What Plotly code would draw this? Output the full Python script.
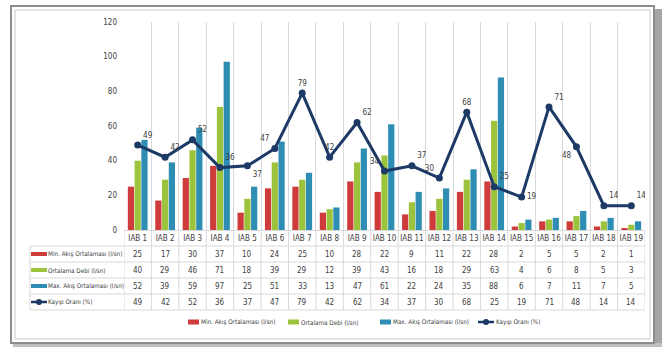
import plotly.graph_objects as go

categories = [f"IAB {i}" for i in range(1, 20)]
min_flow = [25, 17, 30, 37, 10, 24, 25, 10, 28, 22, 9, 11, 22, 28, 2, 5, 5, 2, 1]
avg_flow = [40, 29, 46, 71, 18, 39, 29, 12, 39, 43, 16, 18, 29, 63, 4, 6, 8, 5, 3]
max_flow = [52, 39, 59, 97, 25, 51, 33, 13, 47, 61, 22, 24, 35, 88, 6, 7, 11, 7, 5]
loss_rate = [49, 42, 52, 36, 37, 47, 79, 42, 62, 34, 37, 30, 68, 25, 19, 71, 48, 14, 14]
series_names = ["Min. Akış Ortalaması (l/sn)", "Ortalama Debi (l/sn)",
                "Max. Akış Ortalaması (l/sn)", "Kayıp Oranı (%)"]
label_pos = ["top right", "top right", "top right", "top right", "bottom right",
             "top left", "top center", "top center", "top right", "top left",
             "top right", "top left", "top center", "top right", "middle right",
             "top right", "bottom left", "top right", "top right"]

RED, GREEN, BLUE, NAVY = "#cf3a3a", "#9cc33c", "#2e8db3", "#1d3a66"
FONT = "Liberation Sans Narrow, DejaVu Sans Condensed, Arial Narrow, sans-serif"
W, H = 666, 349
L, R, T, B = 124, 645, 22, 230


def px(x):
    return (x - L) / (R - L)


def py(y):
    return (B - y) / (B - T)


fig = go.Figure()
for name, vals, col in zip(series_names[:3], [min_flow, avg_flow, max_flow], [RED, GREEN, BLUE]):
    fig.add_trace(go.Bar(x=categories, y=vals, name=name, marker_color=col,
                         marker_line_width=0))
fig.add_trace(go.Scatter(x=categories, y=loss_rate, name=series_names[3],
                         mode="lines+markers+text", text=[str(v) for v in loss_rate],
                         textposition=label_pos,
                         textfont=dict(size=8, color="#404040", family=FONT),
                         line=dict(color=NAVY, width=3),
                         marker=dict(size=7, color=NAVY, symbol="circle")))

shapes = []
grid = "#d9d9d9"
# outer frame
shapes.append(dict(type="rect", xref="paper", yref="paper", x0=px(653), x1=px(662),
                   y0=py(347), y1=py(9), fillcolor="#a6a6a6", line_width=0, layer="below"))
shapes.append(dict(type="rect", xref="paper", yref="paper", x0=px(13), x1=px(662),
                   y0=py(347), y1=py(343), fillcolor="#bfbfbf", line_width=0, layer="below"))
shapes.append(dict(type="rect", xref="paper", yref="paper", x0=px(11), x1=px(654),
                   y0=py(343), y1=py(6), fillcolor="white",
                   line=dict(color="#8c8c8c", width=2), layer="below"))
shapes.append(dict(type="rect", xref="paper", yref="paper", x0=px(15), x1=px(650),
                   y0=py(339), y1=py(10), line=dict(color="#c8c8c8", width=1), layer="below"))
# table horizontal lines
for yy in [246, 262, 278, 294, 310]:
    shapes.append(dict(type="line", xref="paper", yref="paper", x0=px(30), x1=1,
                       y0=py(yy), y1=py(yy), line=dict(color=grid, width=1), layer="below"))
shapes.append(dict(type="line", xref="paper", yref="paper", x0=px(30), x1=px(30),
                   y0=py(246), y1=py(310), line=dict(color=grid, width=1), layer="below"))
# table vertical lines at category boundaries
for i in range(len(categories) + 1):
    shapes.append(dict(type="line", xref="x", yref="paper", x0=i - 0.5, x1=i - 0.5,
                       y0=py(230), y1=py(310), line=dict(color=grid, width=1), layer="below"))

annotations = []
txt = dict(size=8, color="#404040", family=FONT)
lbl = dict(size=6.3, color="#404040", family=FONT)
rows = [min_flow, avg_flow, max_flow, loss_rate]
row_y = [254, 270, 286, 302]
for r, (vals, yy) in enumerate(zip(rows, row_y)):
    for c, v in zip(categories, vals):
        annotations.append(dict(x=c, xref="x", y=py(yy), yref="paper", text=str(v),
                                showarrow=False, xanchor="center", yanchor="middle", font=txt))
    annotations.append(dict(x=px(46), xref="paper", y=py(yy), yref="paper",
                            text=series_names[r], showarrow=False, xanchor="left",
                            yanchor="middle", font=lbl))
# legend keys in table
for col, yy in zip([RED, GREEN, BLUE], row_y[:3]):
    shapes.append(dict(type="rect", xref="paper", yref="paper", x0=px(31), x1=px(47),
                       y0=py(yy + 2), y1=py(yy - 2), fillcolor=col, line_width=0))
shapes.append(dict(type="line", xref="paper", yref="paper", x0=px(31), x1=px(47),
                   y0=py(302), y1=py(302), line=dict(color=NAVY, width=2.5)))
shapes.append(dict(type="circle", xref="paper", yref="paper", x0=px(36), x1=px(42),
                   y0=py(305), y1=py(299), fillcolor=NAVY, line_width=0))

# bottom legend (drawn manually)
leg_y = 322
leg_x = [188, 288, 380, 478]
for i, (col, x0) in enumerate(zip([RED, GREEN, BLUE], leg_x[:3])):
    shapes.append(dict(type="rect", xref="paper", yref="paper", x0=px(x0), x1=px(x0 + 11),
                       y0=py(leg_y + 2.5), y1=py(leg_y - 2.5), fillcolor=col, line_width=0))
    annotations.append(dict(x=px(x0 + 11), xref="paper", y=py(leg_y), yref="paper",
                            text=series_names[i], showarrow=False, xanchor="left",
                            yanchor="middle", font=lbl))
x0 = leg_x[3]
shapes.append(dict(type="line", xref="paper", yref="paper", x0=px(x0), x1=px(x0 + 16),
                   y0=py(leg_y), y1=py(leg_y), line=dict(color=NAVY, width=2.5)))
shapes.append(dict(type="circle", xref="paper", yref="paper", x0=px(x0 + 5), x1=px(x0 + 11),
                   y0=py(leg_y + 3), y1=py(leg_y - 3), fillcolor=NAVY, line_width=0))
annotations.append(dict(x=px(x0 + 16), xref="paper", y=py(leg_y), yref="paper",
                        text=series_names[3], showarrow=False, xanchor="left",
                        yanchor="middle", font=lbl))

fig.update_layout(
    width=W, height=H,
    margin=dict(l=L, r=W - R, t=T, b=H - B, autoexpand=False),
    paper_bgcolor="white", plot_bgcolor="white",
    barmode="group", bargap=0.26, bargroupgap=0.08,
    showlegend=False,
    font=dict(family=FONT, size=8, color="#404040"),
    xaxis=dict(type="category", tickson="boundaries", showgrid=True, gridcolor=grid,
               gridwidth=1, showline=True, linecolor=grid, ticks="", tickangle=0,
               range=[-0.5, len(categories) - 0.5], automargin=False, tickfont=txt),
    yaxis=dict(range=[0, 120], dtick=20, showgrid=False, zeroline=False, showline=False,
               ticks="", ticklabelstandoff=6, automargin=False, tickfont=txt),
    shapes=shapes, annotations=annotations,
)

fig.write_html("out.html")
